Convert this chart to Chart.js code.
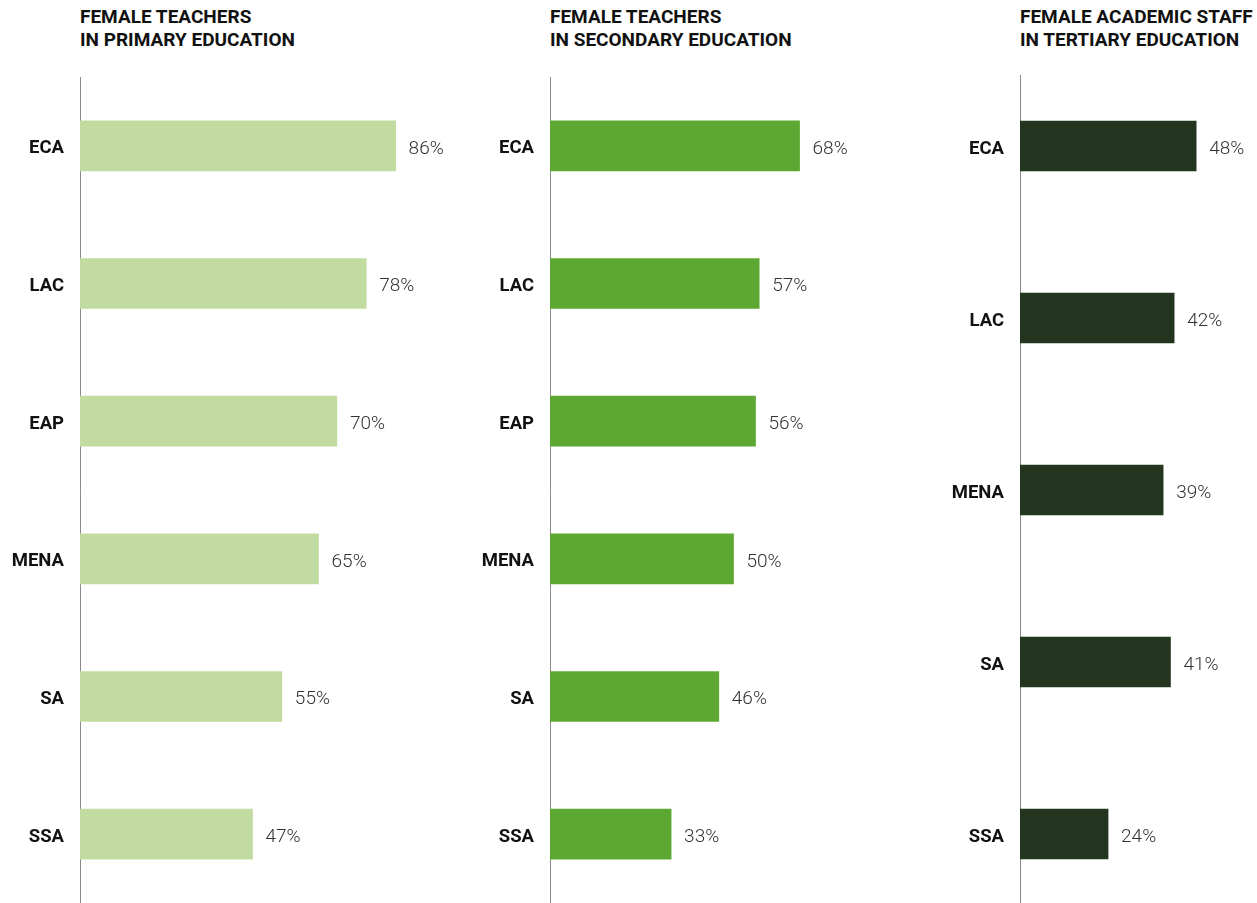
<!DOCTYPE html>
<html>
<head>
<meta charset="utf-8">
<script src="https://cdn.jsdelivr.net/npm/chart.js@4.4.1/dist/chart.umd.min.js"></script>
<style>
  html, body { margin: 0; padding: 0; background: #fff; overflow: hidden; }
  body { width: 1257px; height: 903px; position: relative; font-family: Roboto, "Noto Sans", sans-serif; }
  .title { position: absolute; top: 5px; font-size: 19px; font-weight: 700; line-height: 23px; color: #111; white-space: nowrap; }
  .plot { position: absolute; top: 75px; height: 828px; overflow: hidden; }
  .plot canvas { position: absolute; left: 0; }
</style>
</head>
<body>
<div class="title" style="left:80px">FEMALE TEACHERS<br>IN PRIMARY EDUCATION</div>
<div class="title" style="left:550px">FEMALE TEACHERS<br>IN SECONDARY EDUCATION</div>
<div class="title" style="left:1020px">FEMALE ACADEMIC STAFF<br>IN TERTIARY EDUCATION</div>

<div class="plot" style="left:0px; width:470px"><canvas id="primary" style="top:2px"></canvas></div>
<div class="plot" style="left:470px; width:470px"><canvas id="secondary" style="top:2px"></canvas></div>
<div class="plot" style="left:940px; width:317px"><canvas id="tertiary" style="top:-15px"></canvas></div>

<script>
const primaryLabels = ['ECA', 'LAC', 'EAP', 'MENA', 'SA', 'SSA'];
const primaryValues = [86, 78, 70, 65, 55, 47];

const secondaryLabels = ['ECA', 'LAC', 'EAP', 'MENA', 'SA', 'SSA'];
const secondaryValues = [68, 57, 56, 50, 46, 33];

const tertiaryLabels = ['ECA', 'LAC', 'MENA', 'SA', 'SSA'];
const tertiaryValues = [48, 42, 39, 41, 24];

// value labels to the right of each bar
const valueLabels = {
    id: 'valueLabels',
    afterDatasetsDraw(chart) {
        const ctx = chart.ctx;
        const meta = chart.getDatasetMeta(0);
        const values = chart.data.datasets[0].data;
        ctx.save();
        ctx.font = '300 19px Roboto';
        ctx.fillStyle = '#333';
        ctx.textBaseline = 'middle';
        ctx.textAlign = 'left';
        meta.data.forEach((bar, i) => {
            ctx.fillText(values[i] + '%', bar.x + 13, bar.y + 3);
        });
        ctx.restore();
    }
};

function makePanel(id, labels, values, color, height) {
    const canvas = document.getElementById(id);
    canvas.width = 470;
    canvas.height = height;
    canvas.style.width = '470px';
    canvas.style.height = height + 'px';

    return new Chart(canvas.getContext('2d'), {
        type: 'bar',
        data: {
            labels: labels,
            datasets: [{
                data: values,
                backgroundColor: color,
                barThickness: 50
            }]
        },
        options: {
            indexAxis: 'y',
            responsive: false,
            animation: false,
            layout: { padding: { left: 0, right: 23, top: 0, bottom: 0 } },
            plugins: {
                legend: { display: false },
                tooltip: { enabled: false }
            },
            scales: {
                x: {
                    display: false,
                    min: 0,
                    max: 100
                },
                y: {
                    afterFit(scale) {
                        scale.width = 80;
                        // no extra room above/below the category band
                        scale.paddingTop = 0;
                        scale.paddingBottom = 0;
                    },
                    grid: { display: false, drawTicks: false },
                    border: { display: true, color: '#8a8a8a', width: 1 },
                    ticks: {
                        padding: 16,
                        labelOffset: 3,
                        color: '#111',
                        font: { family: 'Roboto', size: 18.5, weight: 'bold' }
                    }
                }
            }
        },
        plugins: [valueLabels]
    });
}

makePanel('primary', primaryLabels, primaryValues, '#c1dba0', 826);
makePanel('secondary', secondaryLabels, secondaryValues, '#5ca832', 826);
makePanel('tertiary', tertiaryLabels, tertiaryValues, '#23341f', 860);
</script>
</body>
</html>
